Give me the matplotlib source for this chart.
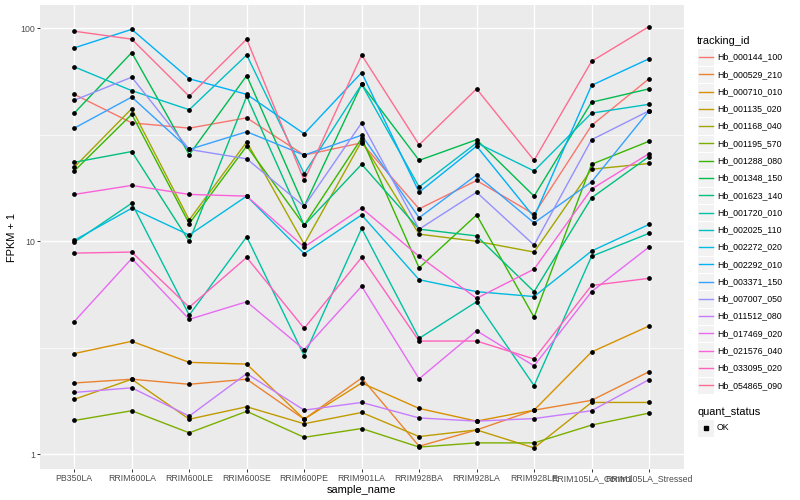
import numpy as np
import matplotlib.pyplot as plt
from matplotlib.lines import Line2D
from matplotlib.patches import Rectangle
from matplotlib.ticker import FixedLocator, NullFormatter

plt.rcParams['font.family'] = ['Liberation Sans', 'DejaVu Sans']

samples = ["PB350LA", "RRIM600LA", "RRIM600LE", "RRIM600SE", "RRIM600PE",
           "RRIM901LA", "RRIM928BA", "RRIM928LA", "RRIM928LE",
           "RRIM105LA_Control", "RRIM105LA_Stressed"]

ids = ["Hb_000144_100", "Hb_000529_210", "Hb_000710_010", "Hb_001135_020",
       "Hb_001168_040", "Hb_001195_570", "Hb_001288_080", "Hb_001348_150",
       "Hb_001623_140", "Hb_001720_010", "Hb_002025_110", "Hb_002272_020",
       "Hb_002292_010", "Hb_003371_150", "Hb_007007_050", "Hb_011512_080",
       "Hb_017469_020", "Hb_021576_040", "Hb_033095_020", "Hb_054865_090"]

# ggplot default hue palette for 20 levels
colors = ["#F8766D", "#EA8331", "#D89000", "#C09B00", "#A3A500", "#7CAE00",
          "#39B600", "#00BB4E", "#00BF7D", "#00C1A3", "#00BFC4", "#00BAE0",
          "#00B0F6", "#35A2FF", "#9590FF", "#C77CFF", "#E76BF3", "#FA62DB",
          "#FF62BC", "#FF6C91"]

# FPKM + 1 per sample
hb_000144_100 = [49, 36, 34, 38, 25.4, 29, 14.2, 19.3, 13.4, 35, 58]
hb_000529_210 = [2.16, 2.25, 2.13, 2.25, 1.46, 2.28, 1.09, 1.30, 1.61, 1.79, 2.44]
hb_000710_010 = [2.97, 3.39, 2.7, 2.65, 1.46, 2.16, 1.64, 1.43, 1.61, 3.02, 4.0]
hb_001135_020 = [1.81, 2.25, 1.46, 1.67, 1.39, 1.57, 1.21, 1.30, 1.07, 1.75, 1.75]
hb_001168_040 = [22.3, 42, 12.6, 29.3, 9.7, 29.5, 10.8, 10, 8.9, 21.8, 23.2]
hb_001195_570 = [1.44, 1.6, 1.26, 1.59, 1.2, 1.32, 1.08, 1.13, 1.13, 1.37, 1.56]
hb_001288_080 = [21.4, 39.5, 12.1, 28, 11.9, 30.5, 7.5, 13.3, 4.4, 23, 29.5]
hb_001348_150 = [40, 77, 25.5, 60, 14.6, 54.6, 24, 30, 16.3, 45, 52]
hb_001623_140 = [23.5, 26.4, 10, 48, 11.9, 23, 11.4, 10.6, 5.8, 16, 25]
hb_001720_010 = [9.9, 15.1, 4.5, 10.5, 2.9, 11.5, 3.5, 5.2, 2.1, 8.5, 10.9]
hb_002025_110 = [66, 51, 41.5, 75, 20.8, 54.6, 18, 29, 21.4, 40, 44]
hb_002272_020 = [10.1, 14.3, 10.7, 16.3, 8.75, 13.3, 6.6, 5.8, 5.5, 9.0, 12.0]
hb_002292_010 = [81, 99, 58, 49, 32, 62, 17, 28, 13, 54, 72]
hb_003371_150 = [34, 47.6, 27, 32.7, 25.4, 31.5, 12.9, 20.5, 12.2, 19, 41]
hb_007007_050 = [46, 59, 27, 24.4, 14.6, 36, 11.4, 17, 9.6, 30, 41]
hb_011512_080 = [1.95, 2.05, 1.51, 2.39, 1.61, 1.75, 1.48, 1.43, 1.47, 1.60, 2.24]
hb_017469_020 = [4.2, 8.3, 4.3, 5.2, 3.1, 6.15, 2.26, 3.8, 2.6, 5.8, 9.4]
hb_021576_040 = [16.6, 18.3, 16.6, 16.3, 9.4, 14.3, 8.5, 5.4, 7.4, 17.6, 25.8]
hb_033095_020 = [8.8, 8.9, 4.9, 8.4, 3.9, 8.4, 3.4, 3.4, 2.8, 6.2, 6.7]
hb_054865_090 = [97, 89, 48, 89, 19.3, 75, 28.4, 52, 24, 70, 102]

series = [hb_000144_100, hb_000529_210, hb_000710_010, hb_001135_020,
          hb_001168_040, hb_001195_570, hb_001288_080, hb_001348_150,
          hb_001623_140, hb_001720_010, hb_002025_110, hb_002272_020,
          hb_002292_010, hb_003371_150, hb_007007_050, hb_011512_080,
          hb_017469_020, hb_021576_040, hb_033095_020, hb_054865_090]

W, H = 800, 500
fig = plt.figure(figsize=(W / 100, H / 100), dpi=100)
ax = fig.add_axes([39.8 / W, 31 / H, 643.7 / W, 463.5 / H])
ax.set_facecolor('#EBEBEB')
ax.set_axisbelow(True)

x = np.arange(len(samples))
for col, vals in zip(colors, series):
    ax.plot(x, vals, color=col, lw=1.0, zorder=2)
for vals in series:
    ax.plot(x, vals, ls='none', marker='o', ms=2.4, color='black', zorder=3)

ax.set_yscale('log')
allv = np.concatenate([np.array(s, dtype=float) for s in series])
lo, hi = np.log10(allv.min()), np.log10(allv.max())
pad = (hi - lo) * 0.05
ax.set_ylim(10 ** (lo - pad), 10 ** (hi + pad))
ax.set_xlim(-0.6, len(samples) - 0.4)

ax.set_xticks(x)
ax.set_xticklabels(samples)
ax.set_yticks([1, 10, 100])
ax.set_yticklabels(['1', '10', '100'])
ax.yaxis.set_minor_locator(FixedLocator([10 ** 0.5, 10 ** 1.5]))
ax.yaxis.set_minor_formatter(NullFormatter())
ax.xaxis.set_minor_locator(FixedLocator([]))
ax.grid(which='major', color='white', lw=1.0)
ax.grid(which='minor', axis='y', color='white', lw=0.5)
ax.tick_params(which='major', length=2, width=0.7, color='#333333',
               labelsize=6.3, labelcolor='#4D4D4D', pad=1.6)
ax.tick_params(which='minor', length=0)
for s in ax.spines.values():
    s.set_visible(False)

ax.set_xlabel('sample_name', fontsize=7.9, labelpad=1.5)
ax.set_ylabel('FPKM + 1', fontsize=7.9, labelpad=2.5)


# legend drawn by hand in pixel coordinates
def fx(px):
    return px / W


def fy(py):
    return 1 - py / H


key = 17.28
fig.text(fx(697), fy(40.7), 'tracking_id', fontsize=7.9, va='center', ha='left')
for i, (sid, col) in enumerate(zip(ids, colors)):
    cy = 57 + i * key
    fig.patches.append(Rectangle((fx(697), fy(cy + key / 2)), key / W, key / H,
                                 transform=fig.transFigure, facecolor='#F2F2F2',
                                 edgecolor='white', lw=0.8))
    fig.lines.append(Line2D([fx(698.5), fx(712.8)], [fy(cy), fy(cy)],
                            transform=fig.transFigure, color=col, lw=1.0))
    fig.text(fx(717), fy(cy), sid, fontsize=6.3, va='center', ha='left')

fig.text(fx(697), fy(412), 'quant_status', fontsize=7.9, va='center', ha='left')
cy = 428
fig.patches.append(Rectangle((fx(697), fy(cy + key / 2)), key / W, key / H,
                             transform=fig.transFigure, facecolor='#F2F2F2',
                             edgecolor='white', lw=0.8))
fig.lines.append(Line2D([fx(697 + key / 2)], [fy(cy)], transform=fig.transFigure,
                        marker='s', ms=2.4, color='black', ls='none'))
fig.text(fx(717), fy(cy), 'OK', fontsize=6.3, va='center', ha='left')

fig.savefig('out.png', dpi=100)
